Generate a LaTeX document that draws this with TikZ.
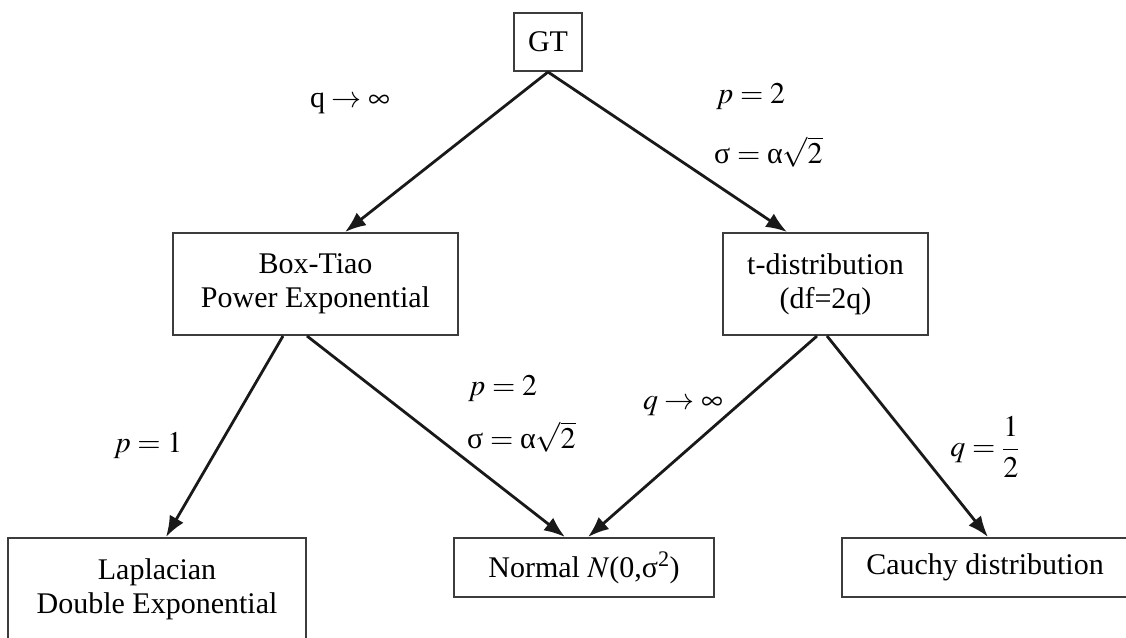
\documentclass[tikz,border=0pt]{standalone}
\usepackage{mathptmx}
\usepackage{fontspec}
\setmainfont{Liberation Serif}
\usepackage{tikz}
\usetikzlibrary{positioning, arrows.meta}
\definecolor{boxgray}{RGB}{60, 60, 60}
\definecolor{arrowblack}{RGB}{25, 25, 25}

\tikzset{
    distbox/.style={draw=boxgray, line width=2pt, inner sep=0pt, align=center},
    flow/.style={arrowblack, line width=2.8pt, -{Latex[length=21pt, width=16pt]}},
    cond/.style={inner sep=0pt},
}

\begin{document}
\begin{tikzpicture}[x=1pt, y=-1pt, font=\fontsize{30}{34}\selectfont]
    \useasboundingbox (0,0) rectangle (1126,637);
    % Distribution boxes
    \node[distbox, minimum width=68, minimum height=58] (gt) at (548, 42) {GT};
    \node[distbox, minimum width=285, minimum height=102] (bt) at (315.5, 284) {Box-Tiao\\Power Exponential};
    \node[distbox, minimum width=205, minimum height=102] (td) at (825.5, 284) {t-distribution\\(df=2q)};
    \node[distbox, minimum width=298, minimum height=102] (lap) at (157, 589) {Laplacian\\Double Exponential};
    \node[distbox, minimum width=260, minimum height=59] (nor) at (584, 567.5) {Normal $N$(0,σ\textsuperscript{2})};
    \node[distbox, minimum width=286, minimum height=59] (cau) at (985, 567.5) {Cauchy distribution};
    % Arrows
    \draw[flow] (gt.south) -- ([xshift=29.5]bt.north);
    \draw[flow] (gt.south) -- ([xshift=-38.5]td.north);
    \draw[flow] ([xshift=-32.5]bt.south) -- ([xshift=9]lap.north);
    \draw[flow] ([xshift=-8.5]bt.south) -- ([xshift=-19]nor.north);
    \draw[flow] ([xshift=-8.5]td.south) -- ([xshift=4]nor.north);
    \draw[flow] ([xshift=1.5]td.south) -- ([xshift=3]cau.north);
    % Conditions
    \node[cond] (qinf) at (350, 103) {q${}\to\infty$};
    \node[cond, anchor=west] (ptwo) at (716, 97) {$p=2$};
    \node[cond, anchor=west] (sig) at (714, 152) {σ${}={}$α$\sqrt{2}$};
    \node[cond] (pone) at (148, 446) {$p=1$};
    \node[cond, anchor=west] (ptwob) at (468, 389) {$p=2$};
    \node[cond, anchor=west] (sigb) at (467, 437) {σ${}={}$α$\sqrt{2}$};
    \node[cond] (qinfb) at (683, 406) {$q\to\infty$};
    \node[cond] (qhalf) at (985, 447) {$q=\displaystyle\frac{1}{2}$};
\end{tikzpicture}
\end{document}
